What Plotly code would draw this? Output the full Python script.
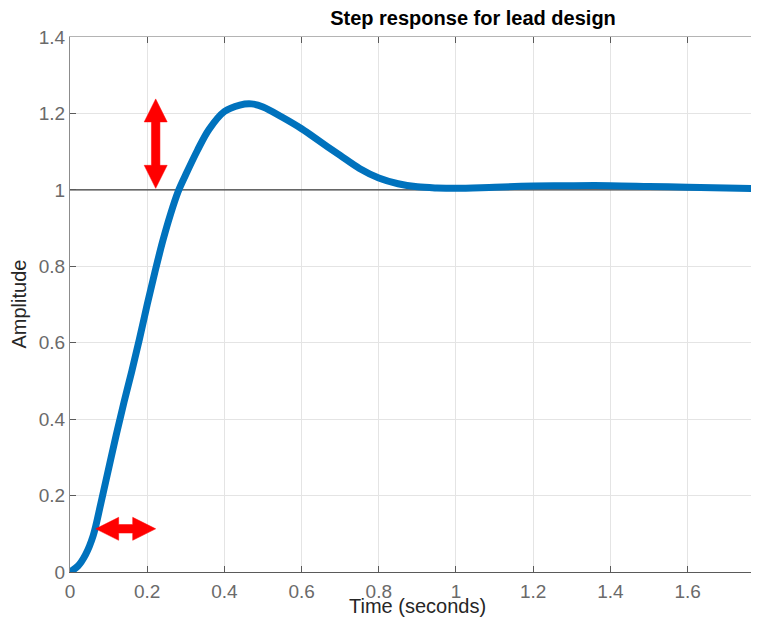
import plotly.graph_objects as go

# ---- data ----
time_s = [0, 0.02, 0.04, 0.06, 0.08, 0.10, 0.12, 0.14, 0.16, 0.18, 0.20, 0.22,
          0.24, 0.26, 0.28, 0.30, 0.33, 0.36, 0.40, 0.44, 0.47, 0.50, 0.55, 0.60,
          0.65, 0.70, 0.75, 0.80, 0.85, 0.90, 0.95, 1.0, 1.1, 1.2, 1.3, 1.4, 1.5,
          1.6, 1.7, 1.79]
amplitude = [0, 0.015, 0.045, 0.095, 0.18, 0.27, 0.36, 0.445, 0.525, 0.61, 0.70, 0.785,
             0.865, 0.935, 0.995, 1.04, 1.103, 1.158, 1.205, 1.222, 1.225, 1.217, 1.19, 1.16,
             1.125, 1.09, 1.056, 1.031, 1.016, 1.008, 1.005, 1.004, 1.007, 1.01, 1.011, 1.011,
             1.009, 1.007, 1.005, 1.003]
final_value = 1.0

x_ticks = [0, 0.2, 0.4, 0.6, 0.8, 1, 1.2, 1.4, 1.6]
x_tick_labels = ["0", "0.2", "0.4", "0.6", "0.8", "1", "1.2", "1.4", "1.6"]
y_ticks = [0, 0.2, 0.4, 0.6, 0.8, 1, 1.2, 1.4]
y_tick_labels = ["0", "0.2", "0.4", "0.6", "0.8", "1", "1.2", "1.4"]
x_range = [0, 1.785]
y_range = [0, 1.4]

# red double arrows: (start, end) in data units
overshoot_arrow = [(0.222, 1.004), (0.222, 1.238)]
rise_arrow = [(0.0665, 0.113), (0.222, 0.113)]

# ---- layout geometry (page has an 8px body margin) ----
W, H = 751, 616
ML, MR, MT, MB = 62, 0, 29, 52
PW, PH = W - ML - MR, H - MT - MB
sx = PW / (x_range[1] - x_range[0])
sy = PH / (y_range[1] - y_range[0])


def double_arrow(p0, p1, head_len=23, head_w=23, shaft_w=8.5):
    # build polygon in pixel space then convert to data units
    x0, y0 = p0[0] * sx, p0[1] * sy
    x1, y1 = p1[0] * sx, p1[1] * sy
    dx, dy = x1 - x0, y1 - y0
    L = (dx * dx + dy * dy) ** 0.5
    ux, uy = dx / L, dy / L
    nx, ny = -uy, ux
    def pt(a, b):
        return (x0 + ux * a + nx * b, y0 + uy * a + ny * b)
    pts = [pt(0, 0), pt(head_len, head_w / 2), pt(head_len, shaft_w / 2),
           pt(L - head_len, shaft_w / 2), pt(L - head_len, head_w / 2), pt(L, 0),
           pt(L - head_len, -head_w / 2), pt(L - head_len, -shaft_w / 2),
           pt(head_len, -shaft_w / 2), pt(head_len, -head_w / 2), pt(0, 0)]
    return [p[0] / sx for p in pts], [p[1] / sy for p in pts]


fig = go.Figure()

fig.add_trace(go.Scatter(x=x_range, y=[final_value, final_value], mode="lines",
                         line=dict(color="#3c3c3c", width=1.2),
                         showlegend=False, hoverinfo="skip"))
fig.add_trace(go.Scatter(x=time_s, y=amplitude, mode="lines",
                         line=dict(color="#0072BD", width=7, shape="spline",
                                   smoothing=1.0),
                         showlegend=False))
for arr in (overshoot_arrow, rise_arrow):
    ax, ay = double_arrow(*arr)
    fig.add_trace(go.Scatter(x=ax, y=ay, mode="lines", fill="toself",
                             fillcolor="#ff0000", line=dict(color="#ff0000", width=0.5),
                             showlegend=False, hoverinfo="skip"))
# dummy trace for the top axis
fig.add_trace(go.Scatter(x=[None], y=[None], xaxis="x2", showlegend=False,
                         hoverinfo="skip"))

font_family = "Arial, Liberation Sans, Helvetica, sans-serif"

fig.update_layout(
    width=W, height=H,
    margin=dict(l=ML, r=MR, t=MT, b=MB, autoexpand=False),
    paper_bgcolor="white", plot_bgcolor="white",
    font=dict(family=font_family, size=19, color="#262626"),
    title=dict(text="<b>Step response for lead design</b>",
               x=465 / W, xref="container", xanchor="center",
               y=1 - 10 / H, yref="container", yanchor="middle",
               font=dict(size=20, color="#000000", family=font_family)),
    xaxis=dict(range=x_range, tickvals=x_ticks, ticktext=x_tick_labels,
               automargin=False, ticklabelstandoff=2,
               showgrid=True, gridcolor="#e4e4e4", gridwidth=1, zeroline=False,
               showline=True, linecolor="#5a5a5a", linewidth=1,
               ticks="inside", ticklen=6, tickcolor="#5a5a5a",
               tickfont=dict(size=19, color="#6a6a6a")),
    xaxis2=dict(range=x_range, overlaying="x", side="top", anchor="y",
                automargin=False,
                tickvals=x_ticks, showticklabels=False, showgrid=False,
                zeroline=False, showline=True, linecolor="#b4b4b4", linewidth=1,
                ticks="inside", ticklen=6, tickcolor="#5a5a5a"),
    yaxis=dict(range=y_range, tickvals=y_ticks, ticktext=y_tick_labels,
               automargin=False,
               showgrid=True, gridcolor="#e4e4e4", gridwidth=1, zeroline=False,
               showline=True, linecolor="#8c8c8c", linewidth=1,
               ticks="inside", ticklen=6, tickcolor="#5a5a5a",
               tickfont=dict(size=19, color="#6a6a6a")),
    annotations=[
        dict(text="Time (seconds)", xref="paper", yref="paper", x=(409.5 - ML) / PW,
             y=0, yshift=-33.5, xanchor="center", yanchor="middle", showarrow=False,
             font=dict(size=20, color="#262626", family=font_family)),
        dict(text="Amplitude", xref="paper", yref="paper", x=0, xshift=-(ML - 10),
             y=0.5, xanchor="center", yanchor="middle", textangle=-90, showarrow=False,
             font=dict(size=20, color="#262626", family=font_family)),
    ],
)

fig.write_html("out.html")
